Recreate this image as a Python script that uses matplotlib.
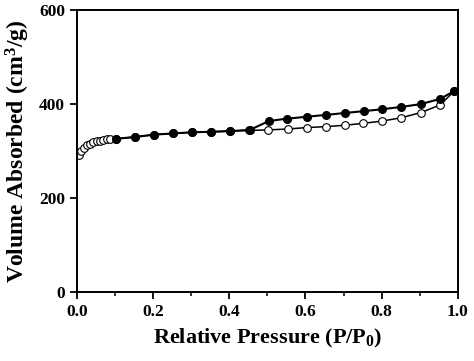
import matplotlib
matplotlib.use("Agg")
import matplotlib.pyplot as plt
from matplotlib.ticker import MultipleLocator

# adsorption branch (open circles)
ads_p = [0.005, 0.010, 0.018, 0.026, 0.034, 0.043, 0.052, 0.061, 0.070, 0.079, 0.088,
         0.102, 0.153, 0.203, 0.253, 0.302, 0.352, 0.402, 0.451,
         0.502, 0.553, 0.603, 0.654, 0.703, 0.752, 0.802, 0.852, 0.903, 0.953, 0.991]
ads_v = [292, 300, 307, 312, 316, 319, 321, 322.5, 324, 325, 325.5,
         326, 330, 335, 337.5, 340, 341, 342.5, 344,
         345, 347, 350, 352, 355, 359, 364, 371, 382, 398, 428]

# desorption branch (filled circles)
des_p = [0.991, 0.953, 0.903, 0.852, 0.801, 0.753, 0.703, 0.654, 0.603, 0.552, 0.504,
         0.454, 0.402, 0.352, 0.302, 0.253, 0.203, 0.153, 0.102]
des_v = [428, 411, 400, 394, 389, 385, 381, 377, 373, 369, 364,
         345, 342.5, 341, 340, 337.5, 335, 330, 326]

plt.rcParams['font.family'] = ['Liberation Serif', 'DejaVu Serif']
plt.rcParams['font.weight'] = 'bold'
plt.rcParams['mathtext.fontset'] = 'custom'
plt.rcParams['mathtext.rm'] = 'Liberation Serif:bold'
plt.rcParams['mathtext.bf'] = 'Liberation Serif:bold'
plt.rcParams['mathtext.it'] = 'Liberation Serif:bold'

fig = plt.figure(figsize=(4.74, 3.61), dpi=100)
ax = fig.add_axes([0.162, 0.191, 0.804, 0.781])

ax.plot(ads_p, ads_v, '-o', color='black', lw=1.1, ms=5.5,
        mfc='white', mec='black', mew=0.8)
ax.plot(des_p, des_v, '-o', color='black', lw=1.5, ms=5.5,
        mfc='black', mec='black')

ax.set_xlim(0, 1.0)
ax.set_ylim(0, 600)
ax.xaxis.set_minor_locator(MultipleLocator(0.1))
ax.yaxis.set_major_locator(MultipleLocator(200))
ax.set_xticks([0, 0.2, 0.4, 0.6, 0.8, 1.0])
ax.set_xticklabels(['0.0', '0.2', '0.4', '0.6', '0.8', '1.0'])

ax.tick_params(which='major', direction='out', length=5, width=1.3, labelsize=12.5)
ax.tick_params(which='minor', direction='out', length=3, width=1.1)
for s in ax.spines.values():
    s.set_linewidth(1.4)
for lab in ax.get_xticklabels() + ax.get_yticklabels():
    lab.set_fontweight('bold')

ax.set_xlabel(r'Relative Pressure (P/P$_\mathrm{0}$)', fontsize=16, fontweight='bold', labelpad=5)
ax.set_ylabel(r'Volume Absorbed (cm$^\mathrm{3}$/g)', fontsize=17, fontweight='bold', labelpad=5)

fig.savefig('out.png', dpi=100)
